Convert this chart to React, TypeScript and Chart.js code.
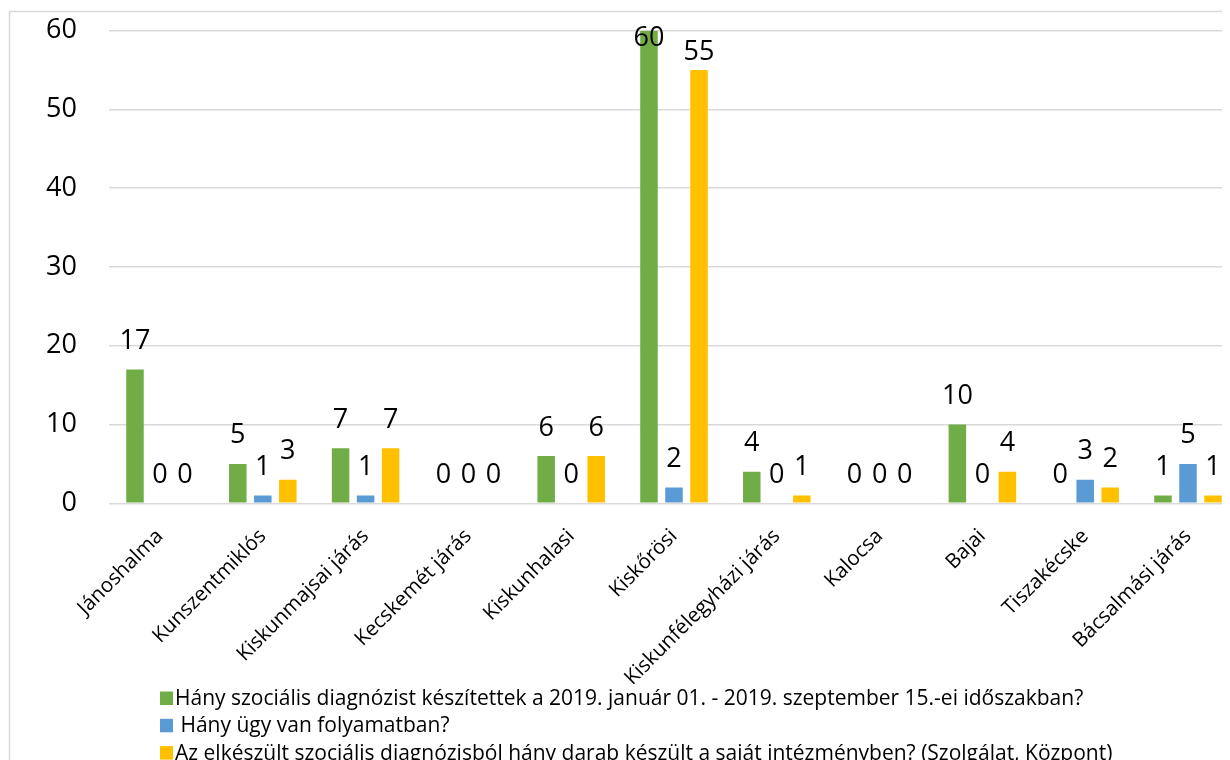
import { useEffect, useRef } from "react";
import { Chart, registerables } from "chart.js";

Chart.register(...registerables);

const categories = [
  "Jánoshalma",
  "Kunszentmiklós",
  "Kiskunmajsai járás",
  "Kecskemét járás",
  "Kiskunhalasi",
  "Kiskőrösi",
  "Kiskunfélegyházi járás",
  "Kalocsa",
  "Bajai",
  "Tiszakécske",
  "Bácsalmási járás",
];

const seriesNames = [
  "Hány szociális diagnózist készítettek a 2019. január 01. - 2019. szeptember 15.-ei időszakban?",
  " Hány ügy van folyamatban?",
  "Az elkészült szociális diagnózisból hány darab készült a saját intézményben? (Szolgálat, Központ)",
];

const diagnoses = [17, 5, 7, 0, 6, 60, 4, 0, 10, 0, 1];
const inProgress = [0, 1, 1, 0, 0, 2, 0, 0, 0, 3, 5];
const ownInstitution = [0, 3, 7, 0, 6, 55, 1, 0, 4, 2, 1];

const seriesColors = ["#70AD47", "#5B9BD5", "#FFC000"];

const yMin = 0;
const yMax = 60;
const yStep = 10;

const FONT = "'Open Sans', 'Noto Sans', sans-serif";

const frame = {
  id: "frame",
  beforeDraw(chart: any) {
    const { ctx, width, height } = chart;
    ctx.save();
    ctx.strokeStyle = "#d9d9d9";
    ctx.lineWidth = 1.5;
    ctx.strokeRect(1.5, 3.5, width - 3, height - 5);
    ctx.restore();
  },
};

const valueLabels = {
  id: "valueLabels",
  afterDatasetsDraw(chart: any) {
    const { ctx, chartArea } = chart;
    ctx.save();
    ctx.font = `27px ${FONT}`;
    ctx.fillStyle = "#000";
    ctx.textAlign = "center";
    ctx.textBaseline = "alphabetic";
    chart.data.datasets.forEach((ds: any, i: number) => {
      const meta = chart.getDatasetMeta(i);
      meta.data.forEach((bar: any, j: number) => {
        const v = ds.data[j];
        let y = bar.y - 20.5;
        if (y - 19.3 < chartArea.top + 11) {
          y = bar.y - chartArea.top < 5 ? bar.y + 15 : chartArea.top + 29.6;
        }
        ctx.fillText(String(v), bar.x, y);
      });
    });
    ctx.restore();
  },
};

const bottomLegend = {
  id: "bottomLegend",
  afterDraw(chart: any) {
    const { ctx } = chart;
    ctx.save();
    ctx.font = `21px ${FONT}`;
    ctx.textAlign = "left";
    ctx.textBaseline = "alphabetic";
    chart.data.datasets.forEach((ds: any, i: number) => {
      const base = 697 + i * 27.3;
      ctx.fillStyle = ds.backgroundColor;
      ctx.fillRect(152, base - 13.5, 13, 13.5);
      ctx.fillStyle = "#000";
      ctx.fillText(ds.label, 167, base);
    });
    ctx.restore();
  },
};

export default function App() {
  const ref = useRef<HTMLCanvasElement>(null);

  useEffect(() => {
    document.body.style.overflow = "hidden";
    const chart = new Chart(ref.current!, {
      type: "bar",
      data: {
        labels: categories,
        datasets: [diagnoses, inProgress, ownInstitution].map((d, i) => ({
          label: seriesNames[i],
          data: d,
          backgroundColor: seriesColors[i],
          borderWidth: 0,
          categoryPercentage: 0.73,
          barPercentage: 0.7,
        })),
      },
      options: {
        responsive: false,
        animation: false,
        events: [],
        layout: { padding: { top: 22.7, right: 8.6, bottom: 0, left: 0 } },
        plugins: {
          legend: { display: false },
          tooltip: { enabled: false },
          title: { display: false },
        },
        scales: {
          x: {
            grid: { display: false, drawTicks: false },
            border: { display: false },
            ticks: {
              autoSkip: false,
              maxRotation: 45,
              minRotation: 45,
              padding: 21,
              color: "#000",
              font: { family: FONT, size: 20.5 },
            },
            afterFit(scale: any) {
              scale.height = 274.7;
              scale.paddingTop = 0;
              scale.paddingBottom = 0;
            },
          },
          y: {
            min: yMin,
            max: yMax,
            grid: { color: "#d9d9d9", lineWidth: 1.5, drawTicks: false },
            border: { display: false },
            ticks: {
              stepSize: yStep,
              padding: 31.6,
              color: "#000",
              font: { family: FONT, size: 27 },
            },
            afterFit(scale: any) {
              scale.width = 100.6;
              scale.paddingTop = 0;
              scale.paddingBottom = 0;
            },
          },
        },
      },
      plugins: [frame, valueLabels, bottomLegend],
    });
    return () => chart.destroy();
  }, []);

  return (
    <div style={{ width: 1222, height: 752, overflow: "hidden" }}>
      <canvas ref={ref} width={1240} height={770} style={{ display: "block" }} />
    </div>
  );
}
